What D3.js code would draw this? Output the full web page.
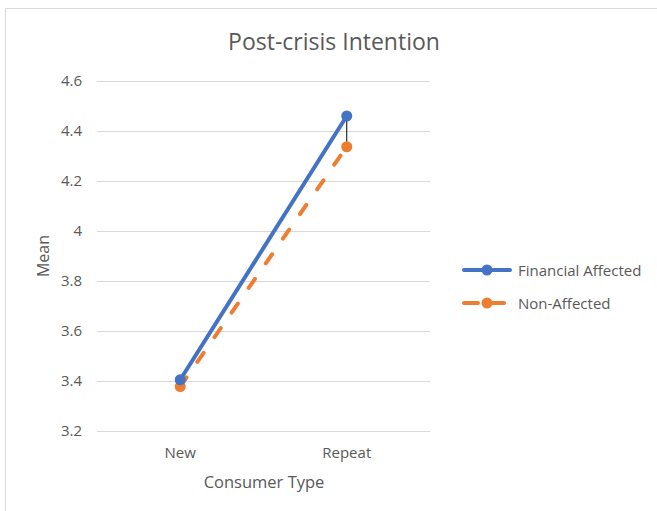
<!DOCTYPE html>
<html>
<head>
<meta charset="utf-8">
<script src="https://cdn.jsdelivr.net/npm/d3@7"></script>
<style>
  html, body { margin: 0; padding: 0; background: #fff; }
  svg { display: block; font-family: "Open Sans", "Liberation Sans", sans-serif; }
</style>
</head>
<body>
<svg id="chart" width="657" height="511"></svg>
<script>
// chart data
const categories = ['New', 'Repeat'];
const financialAffected = [3.405, 4.46];
const nonAffected = [3.378, 4.337];
const yTicks = [3.2, 3.4, 3.6, 3.8, 4, 4.2, 4.4, 4.6];
const seriesNames = ['Financial Affected', 'Non-Affected'];

const svg = d3.select('#chart');
const textColor = '#595959';
const font = '"Open Sans", "Liberation Sans", sans-serif';

// outer chart frame
svg.append('rect')
  .attr('x', 5.5).attr('y', 8.5)
  .attr('width', 700).attr('height', 600)
  .attr('fill', '#fff').attr('stroke', '#d9d9d9');

const plot = { left: 97, right: 430, top: 81, bottom: 431 };

const x = d3.scaleBand().domain(categories).range([plot.left, plot.right]);
const y = d3.scaleLinear().domain([3.2, 4.6]).range([plot.bottom, plot.top]);
const cx = d => x(d) + x.bandwidth() / 2;

// gridlines
svg.append('g').selectAll('line')
  .data(yTicks)
  .join('line')
  .attr('x1', plot.left).attr('x2', plot.right)
  .attr('y1', d => Math.round(y(d)) + 0.5).attr('y2', d => Math.round(y(d)) + 0.5)
  .attr('stroke', '#d9d9d9').attr('stroke-width', 1);

// y tick labels
const yAxis = d3.axisLeft(y).tickValues(yTicks).tickSize(0).tickPadding(15)
  .tickFormat(d => d3.format('')(d));
const ya = svg.append('g').attr('transform', `translate(${plot.left},0)`).call(yAxis);
ya.select('.domain').remove();
ya.selectAll('text').attr('fill', textColor).attr('font-size', 15).attr('font-family', font);

// x tick labels
const xAxis = d3.axisBottom(x).tickSize(0).tickPadding(16);
const xa = svg.append('g').attr('transform', `translate(0,${plot.bottom})`).call(xAxis);
xa.select('.domain').remove();
xa.selectAll('text').attr('fill', textColor).attr('font-size', 15).attr('font-family', font);

// high-low lines
svg.append('g').selectAll('line')
  .data(categories)
  .join('line')
  .attr('x1', d => cx(d)).attr('x2', d => cx(d))
  .attr('y1', (d, i) => y(financialAffected[i]))
  .attr('y2', (d, i) => y(nonAffected[i]))
  .attr('stroke', '#000').attr('stroke-width', 1);

const line = d3.line().x((d, i) => cx(categories[i])).y(d => y(d));

const series = [
  { name: seriesNames[0], values: financialAffected, color: '#4472C4', dash: null },
  { name: seriesNames[1], values: nonAffected, color: '#ED7D31', dash: '11,19' }
];

// draw orange first so blue sits on top
[series[1], series[0]].forEach(s => {
  svg.append('path')
    .datum(s.values)
    .attr('d', line)
    .attr('fill', 'none')
    .attr('stroke', s.color)
    .attr('stroke-width', 4)
    .attr('stroke-dasharray', s.dash)
    .attr('stroke-linecap', 'round');
  svg.append('g').selectAll('circle')
    .data(s.values)
    .join('circle')
    .attr('cx', (d, i) => cx(categories[i]))
    .attr('cy', d => y(d))
    .attr('r', 5.5)
    .attr('fill', s.color);
});

// title
svg.append('text')
  .attr('x', 334).attr('y', 50)
  .attr('text-anchor', 'middle')
  .attr('font-size', 23)
  .attr('fill', textColor)
  .text('Post-crisis Intention');

// axis titles
svg.append('text')
  .attr('transform', 'translate(49,256) rotate(-90)')
  .attr('text-anchor', 'middle')
  .attr('font-size', 16)
  .attr('fill', textColor)
  .text('Mean');

svg.append('text')
  .attr('x', 264).attr('y', 488)
  .attr('text-anchor', 'middle')
  .attr('font-size', 16.5)
  .attr('fill', textColor)
  .text('Consumer Type');

// legend
const legend = svg.append('g').selectAll('g')
  .data(series)
  .join('g')
  .attr('transform', (d, i) => `translate(462,${270 + i * 33})`);

legend.append('line')
  .attr('x1', 2).attr('x2', 48)
  .attr('stroke', d => d.color)
  .attr('stroke-width', 4)
  .attr('stroke-linecap', 'round')
  .attr('stroke-dasharray', d => d.dash ? '14,6,0,6,14' : null);
legend.append('circle')
  .attr('cx', 25).attr('r', 5.5)
  .attr('fill', d => d.color);
legend.append('text')
  .attr('x', 56).attr('y', 5.5)
  .attr('font-size', 15)
  .attr('fill', textColor)
  .text(d => d.name);
</script>
</body>
</html>
